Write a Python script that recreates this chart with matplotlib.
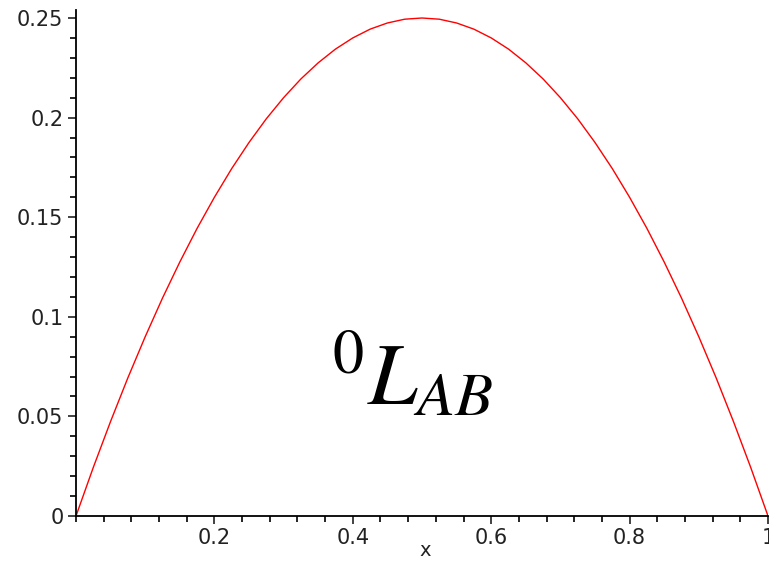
import matplotlib
matplotlib.use("Agg")
import matplotlib.pyplot as plt
from matplotlib.ticker import MultipleLocator, FixedLocator

# Sampled curve values
x_vals = [0.0, 0.025, 0.05, 0.075, 0.1, 0.125, 0.15, 0.175, 0.2, 0.225,
          0.25, 0.275, 0.3, 0.325, 0.35, 0.375, 0.4, 0.425, 0.45, 0.475,
          0.5, 0.525, 0.55, 0.575, 0.6, 0.625, 0.65, 0.675, 0.7, 0.725,
          0.75, 0.775, 0.8, 0.825, 0.85, 0.875, 0.9, 0.925, 0.95, 0.975, 1.0]
y_vals = [0.0, 0.0244, 0.0475, 0.0694, 0.09, 0.1094, 0.1275, 0.1444, 0.16, 0.1744,
          0.1875, 0.1994, 0.21, 0.2194, 0.2275, 0.2344, 0.24, 0.2444, 0.2475, 0.2494,
          0.25, 0.2494, 0.2475, 0.2444, 0.24, 0.2344, 0.2275, 0.2194, 0.21, 0.1994,
          0.1875, 0.1744, 0.16, 0.1444, 0.1275, 0.1094, 0.09, 0.0694, 0.0475, 0.0244, 0.0]

x_ticks = [0.2, 0.4, 0.6, 0.8, 1.0]
x_tick_labels = ["0.2", "0.4", "0.6", "0.8", "1"]
y_ticks = [0.0, 0.05, 0.1, 0.15, 0.2, 0.25]
y_tick_labels = ["0", "0.05", "0.1", "0.15", "0.2", "0.25"]

plt.rcParams["mathtext.fontset"] = "stix"

fig = plt.figure(figsize=(7.69, 5.64), dpi=100)
ax = fig.add_axes([76 / 769, (564 - 516) / 564, (768 - 76) / 769, (516 - 10) / 564])

ax.plot(x_vals, y_vals, color="#ff0000", linewidth=1.0)

ax.set_xlim(0, 1.0)
ax.set_ylim(0, 0.25 * (506 / 498))

for s in ("top", "right"):
    ax.spines[s].set_visible(False)
for s in ("left", "bottom"):
    ax.spines[s].set_linewidth(1.3)

ax.xaxis.set_major_locator(FixedLocator(x_ticks))
ax.set_xticklabels(x_tick_labels)
ax.xaxis.set_minor_locator(MultipleLocator(0.04))
ax.yaxis.set_major_locator(FixedLocator(y_ticks))
ax.set_yticklabels(y_tick_labels)
ax.yaxis.set_minor_locator(MultipleLocator(0.01))

ax.tick_params(which="major", direction="out", length=6, width=1.2,
               labelsize=15, colors="#222222", pad=3)
ax.tick_params(which="minor", direction="out", length=4, width=1.2)

ax.set_xlabel("x", fontsize=14, color="#222222", va="top")
ax.xaxis.set_label_coords(0.505, -0.05)

ax.text(0.486, 0.27, r"${}^{0}L_{AB}$", fontsize=64, transform=ax.transAxes,
        ha="center", va="center")

fig.savefig("out.png", dpi=100)
